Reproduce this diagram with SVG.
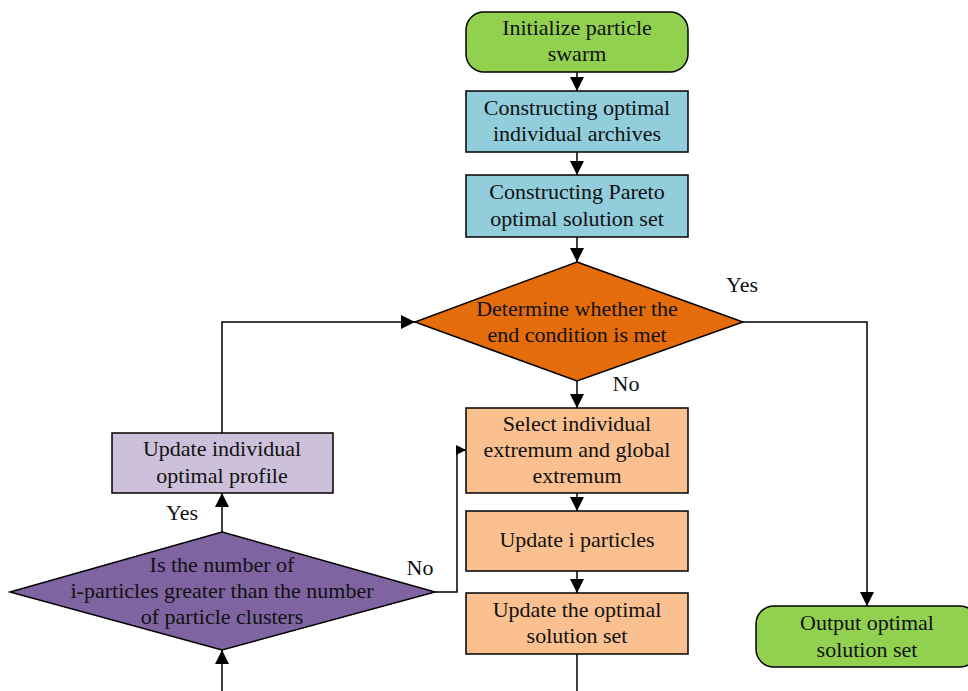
<svg xmlns="http://www.w3.org/2000/svg" width="968" height="691" viewBox="0 0 968 691">
<defs>
<style>
.n{stroke:#000;stroke-width:1.5}
.t{font-family:"Liberation Serif","Times New Roman",serif;font-size:22px;fill:#111;text-anchor:middle}
.c{fill:none;stroke:#000;stroke-width:1.5}
</style>
<marker id="a" viewBox="0 0 10 10" refX="10" refY="5" markerWidth="10" markerHeight="10" markerUnits="userSpaceOnUse" orient="auto">
<path d="M0,0 L10,5 L0,10 Z" fill="#000"/>
</marker>
<marker id="b" viewBox="0 0 14 14" refX="14" refY="7" markerWidth="14" markerHeight="14" markerUnits="userSpaceOnUse" orient="auto">
<path d="M0,0 L14,7 L0,14 Z" fill="#000"/>
</marker>
</defs>
<rect width="968" height="691" fill="#fff"/>
<g id="connectors">
<line class="c" x1="577" y1="72" x2="577" y2="91" marker-end="url(#b)"/>
<line class="c" x1="577" y1="152" x2="577" y2="175" marker-end="url(#b)"/>
<line class="c" x1="577" y1="237" x2="577" y2="262" marker-end="url(#b)"/>
<line class="c" x1="577" y1="381" x2="577" y2="408" marker-end="url(#b)"/>
<line class="c" x1="577" y1="493" x2="577" y2="511" marker-end="url(#b)"/>
<line class="c" x1="577" y1="571" x2="577" y2="593" marker-end="url(#b)"/>
<line class="c" x1="577" y1="654" x2="577" y2="691"/>
<polyline class="c" points="743,322 867,322 867,606" marker-end="url(#b)"/>
<polyline class="c" points="222,433 222,322 415,322" marker-end="url(#b)"/>
<line class="c" x1="222" y1="532" x2="222" y2="493" marker-end="url(#b)"/>
<line class="c" x1="222" y1="691" x2="222" y2="650" marker-end="url(#b)"/>
<polyline class="c" points="435,592 457,592 457,450 466,450" marker-end="url(#a)"/>
<text class="t" x="742" y="292">Yes</text>
<text class="t" x="626" y="391">No</text>
<text class="t" x="182" y="520">Yes</text>
<text class="t" x="420" y="575">No</text>
</g>
<g id="start">
<rect class="n" x="466" y="12" width="222" height="60" rx="18" fill="#92D050"/>
<text class="t" x="577" y="35">Initialize particle</text>
<text class="t" x="577" y="61">swarm</text>
</g>
<g id="archives">
<rect class="n" x="466" y="91" width="222" height="61" fill="#92CDDC"/>
<text class="t" x="577" y="115">Constructing optimal</text>
<text class="t" x="577" y="141">individual archives</text>
</g>
<g id="pareto">
<rect class="n" x="466" y="175" width="222" height="62" fill="#92CDDC"/>
<text class="t" x="577" y="199">Constructing Pareto</text>
<text class="t" x="577" y="226">optimal solution set</text>
</g>
<g id="endcond">
<polygon class="n" points="577,262 743,322 577,381 415,322" fill="#E46C0A"/>
<text class="t" x="577" y="316">Determine whether the</text>
<text class="t" x="577" y="342">end condition is met</text>
</g>
<g id="select">
<rect class="n" x="466" y="408" width="222" height="85" fill="#FAC090"/>
<text class="t" x="577" y="431">Select individual</text>
<text class="t" x="577" y="457">extremum and global</text>
<text class="t" x="577" y="483">extremum</text>
</g>
<g id="updatei">
<rect class="n" x="466" y="511" width="222" height="60" fill="#FAC090"/>
<text class="t" x="577" y="547">Update i particles</text>
</g>
<g id="updateset">
<rect class="n" x="466" y="593" width="222" height="61" fill="#FAC090"/>
<text class="t" x="577" y="617">Update the optimal</text>
<text class="t" x="577" y="643">solution set</text>
</g>
<g id="output">
<rect class="n" x="756" y="606" width="222" height="61" rx="18" fill="#92D050"/>
<text class="t" x="867" y="630">Output optimal</text>
<text class="t" x="867" y="657">solution set</text>
</g>
<g id="profile">
<rect class="n" x="112" y="433" width="221" height="60" fill="#CCC0DA"/>
<text class="t" x="222" y="456">Update individual</text>
<text class="t" x="222" y="483">optimal profile</text>
</g>
<g id="clusters">
<polygon class="n" points="222,532 435,592 222,650 10,592" fill="#8064A2"/>
<text class="t" x="222" y="572">Is the number of</text>
<text class="t" x="222" y="598">i-particles greater than the number</text>
<text class="t" x="222" y="624">of particle clusters</text>
</g>
</svg>
